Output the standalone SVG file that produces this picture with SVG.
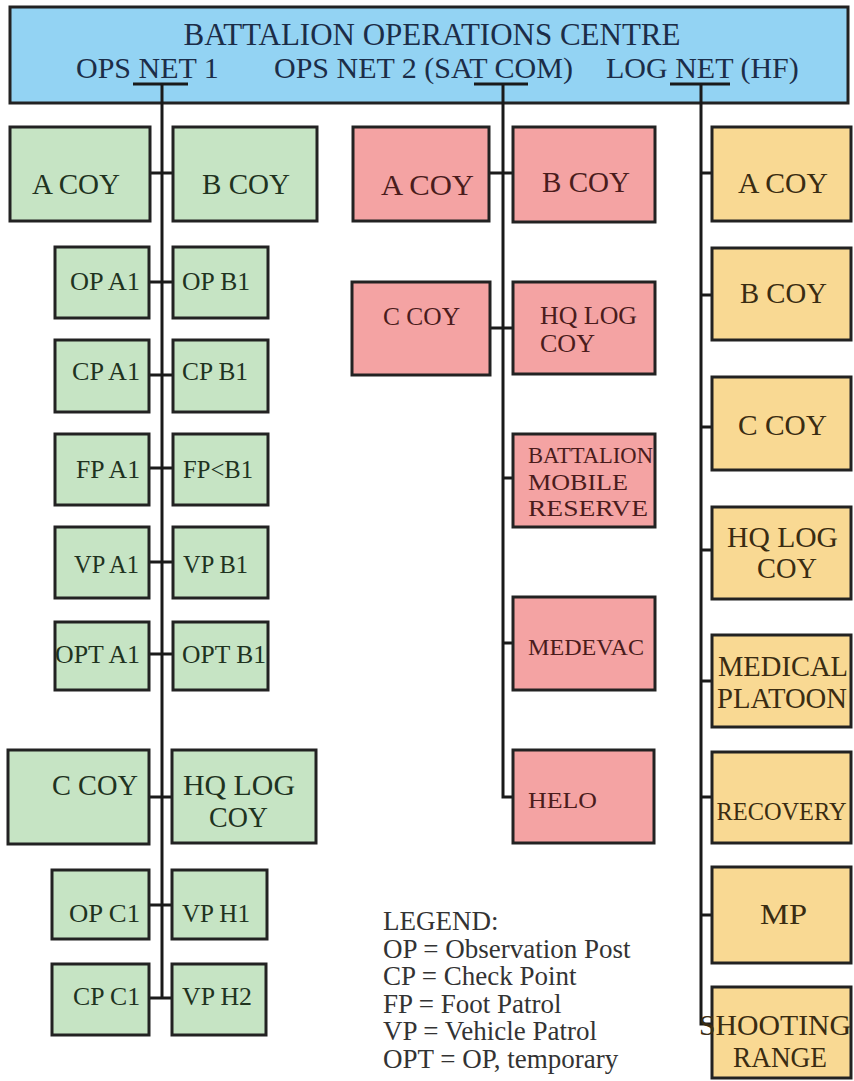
<svg xmlns="http://www.w3.org/2000/svg" width="854" height="1081" viewBox="0 0 854 1081">
<style>
text{font-family:"Liberation Serif","Times New Roman",serif;}
.box{stroke:#222;stroke-width:3;}
.hdr{fill:#93d3f3;}
.g{fill:#c6e4c4;}
.r{fill:#f4a3a3;}
.y{fill:#f9d993;}
.tg{fill:#1f331f;}
.tr{fill:#4a1c1c;}
.ty{fill:#3a2c12;}
.th{fill:#1c2d48;}
.b29{font-size:29px;}
.s25{font-size:25px;}
.s26{font-size:26px;}
.s24{font-size:24px;}
.leg{font-size:27px;fill:#333;}
.c{fill:none;stroke:#1a1a1a;stroke-width:3;}
</style>
<rect width="854" height="1081" fill="#ffffff"/>

<g id="header">
<rect class="box hdr" x="10" y="7" width="838" height="96"/>
<text class="th" x="432" y="45" font-size="31" text-anchor="middle">BATTALION OPERATIONS CENTRE</text>
<text class="th" x="76" y="78" font-size="30">OPS NET 1</text>
<text class="th" x="274" y="78" font-size="30">OPS NET 2 (SAT COM)</text>
<text class="th" x="606" y="78" font-size="30">LOG NET (HF)</text>
</g>

<g id="connectors">
<path class="c" d="M133 84H188M162 84V998"/>
<path class="c" d="M474 84H528M503 84V797H513"/>
<path class="c" d="M670 84H730M701 84V1024H712"/>
<path class="c" d="M150 173H173M149 282H173M149 375H173M149 468H173M149 562H173M149 654H173M149 797H172M149 905H172M149 998H172"/>
<path class="c" d="M489 173H513M490 328H513M503 478H513M503 643H513"/>
<path class="c" d="M701 173H712M701 295H712M701 427H712M701 550H712M701 681H712M701 797H712M701 915H712"/>
</g>

<g id="ops1-a-coy"><rect class="box g" x="10" y="127" width="140" height="94"/><text class="tg b29" x="32" y="194" textLength="88" lengthAdjust="spacingAndGlyphs">A COY</text></g>
<g id="ops1-b-coy"><rect class="box g" x="173" y="127" width="144" height="94"/><text class="tg b29" x="202" y="194" textLength="88" lengthAdjust="spacingAndGlyphs">B COY</text></g>
<g id="op-a1"><rect class="box g" x="55" y="247" width="94" height="71"/><text class="tg s25" x="70" y="290" textLength="70" lengthAdjust="spacingAndGlyphs">OP A1</text></g>
<g id="op-b1"><rect class="box g" x="173" y="247" width="95" height="71"/><text class="tg s25" x="182" y="290" textLength="68" lengthAdjust="spacingAndGlyphs">OP B1</text></g>
<g id="cp-a1"><rect class="box g" x="55" y="340" width="94" height="72"/><text class="tg s25" x="72" y="380" textLength="68" lengthAdjust="spacingAndGlyphs">CP A1</text></g>
<g id="cp-b1"><rect class="box g" x="173" y="340" width="95" height="72"/><text class="tg s25" x="182" y="380" textLength="66" lengthAdjust="spacingAndGlyphs">CP B1</text></g>
<g id="fp-a1"><rect class="box g" x="55" y="434" width="94" height="71"/><text class="tg s25" x="76" y="478" textLength="64" lengthAdjust="spacingAndGlyphs">FP A1</text></g>
<g id="fp-b1"><rect class="box g" x="173" y="434" width="95" height="71"/><text class="tg s25" x="183" y="478" textLength="70" lengthAdjust="spacingAndGlyphs">FP&lt;B1</text></g>
<g id="vp-a1"><rect class="box g" x="55" y="527" width="94" height="71"/><text class="tg s25" x="74" y="573" textLength="65" lengthAdjust="spacingAndGlyphs">VP A1</text></g>
<g id="vp-b1"><rect class="box g" x="173" y="527" width="95" height="71"/><text class="tg s25" x="183" y="573" textLength="65" lengthAdjust="spacingAndGlyphs">VP B1</text></g>
<g id="opt-a1"><rect class="box g" x="55" y="622" width="94" height="68"/><text class="tg s25" x="55" y="663" textLength="85" lengthAdjust="spacingAndGlyphs">OPT A1</text></g>
<g id="opt-b1"><rect class="box g" x="173" y="622" width="95" height="68"/><text class="tg s25" x="182" y="663" textLength="84" lengthAdjust="spacingAndGlyphs">OPT B1</text></g>
<g id="ops1-c-coy"><rect class="box g" x="8" y="750" width="141" height="94"/><text class="tg b29" x="52" y="795" textLength="86" lengthAdjust="spacingAndGlyphs">C COY</text></g>
<g id="ops1-hq-log-coy"><rect class="box g" x="172" y="750" width="144" height="93"/><text class="tg b29" x="183" y="795" textLength="112" lengthAdjust="spacingAndGlyphs">HQ LOG</text><text class="tg b29" x="209" y="827" textLength="59" lengthAdjust="spacingAndGlyphs">COY</text></g>
<g id="op-c1"><rect class="box g" x="52" y="870" width="97" height="69"/><text class="tg s25" x="69" y="922" textLength="71" lengthAdjust="spacingAndGlyphs">OP C1</text></g>
<g id="vp-h1"><rect class="box g" x="172" y="870" width="95" height="69"/><text class="tg s25" x="182" y="922" textLength="68" lengthAdjust="spacingAndGlyphs">VP H1</text></g>
<g id="cp-c1"><rect class="box g" x="52" y="964" width="97" height="71"/><text class="tg s25" x="73" y="1005" textLength="67" lengthAdjust="spacingAndGlyphs">CP C1</text></g>
<g id="vp-h2"><rect class="box g" x="172" y="964" width="94" height="71"/><text class="tg s25" x="182" y="1005" textLength="70" lengthAdjust="spacingAndGlyphs">VP H2</text></g>

<g id="ops2-a-coy"><rect class="box r" x="353" y="127" width="136" height="94"/><text class="tr b29" x="381" y="195" textLength="93" lengthAdjust="spacingAndGlyphs">A COY</text></g>
<g id="ops2-b-coy"><rect class="box r" x="513" y="127" width="142" height="95"/><text class="tr b29" x="542" y="192" textLength="88" lengthAdjust="spacingAndGlyphs">B COY</text></g>
<g id="ops2-c-coy"><rect class="box r" x="352" y="282" width="138" height="93"/><text class="tr s26" x="383" y="325" textLength="77" lengthAdjust="spacingAndGlyphs">C COY</text></g>
<g id="ops2-hq-log-coy"><rect class="box r" x="513" y="282" width="142" height="92"/><text class="tr s26" x="540" y="324" textLength="97" lengthAdjust="spacingAndGlyphs">HQ LOG</text><text class="tr s26" x="540" y="352" textLength="55" lengthAdjust="spacingAndGlyphs">COY</text></g>
<g id="battalion-mobile-reserve"><rect class="box r" x="513" y="434" width="142" height="93"/><text class="tr s24" x="528" y="463" textLength="125" lengthAdjust="spacingAndGlyphs">BATTALION</text><text class="tr s24" x="528" y="490" textLength="100" lengthAdjust="spacingAndGlyphs">MOBILE</text><text class="tr s24" x="528" y="516" textLength="120" lengthAdjust="spacingAndGlyphs">RESERVE</text></g>
<g id="medevac"><rect class="box r" x="513" y="597" width="142" height="93"/><text class="tr s24" x="528" y="655" textLength="116" lengthAdjust="spacingAndGlyphs">MEDEVAC</text></g>
<g id="helo"><rect class="box r" x="513" y="750" width="141" height="93"/><text class="tr s24" x="528" y="808" textLength="69" lengthAdjust="spacingAndGlyphs">HELO</text></g>

<g id="log-a-coy"><rect class="box y" x="712" y="127" width="139" height="94"/><text class="ty b29" x="738" y="193" textLength="90" lengthAdjust="spacingAndGlyphs">A COY</text></g>
<g id="log-b-coy"><rect class="box y" x="712" y="248" width="139" height="92"/><text class="ty b29" x="740" y="303" textLength="87" lengthAdjust="spacingAndGlyphs">B COY</text></g>
<g id="log-c-coy"><rect class="box y" x="712" y="377" width="139" height="93"/><text class="ty b29" x="738" y="435" textLength="89" lengthAdjust="spacingAndGlyphs">C COY</text></g>
<g id="log-hq-log-coy"><rect class="box y" x="712" y="507" width="139" height="92"/><text class="ty b29" x="727" y="547" textLength="111" lengthAdjust="spacingAndGlyphs">HQ LOG</text><text class="ty b29" x="757" y="578" textLength="60" lengthAdjust="spacingAndGlyphs">COY</text></g>
<g id="medical-platoon"><rect class="box y" x="712" y="635" width="139" height="92"/><text class="ty b29" x="718" y="676" textLength="130" lengthAdjust="spacingAndGlyphs">MEDICAL</text><text class="ty b29" x="717" y="708" textLength="130" lengthAdjust="spacingAndGlyphs">PLATOON</text></g>
<g id="recovery"><rect class="box y" x="712" y="752" width="139" height="91"/><text class="ty" font-size="25" x="781.5" y="820" text-anchor="middle" textLength="130" lengthAdjust="spacingAndGlyphs">RECOVERY</text></g>
<g id="mp"><rect class="box y" x="712" y="867" width="139" height="96"/><text class="ty" font-size="30" x="760" y="924" textLength="47" lengthAdjust="spacingAndGlyphs">MP</text></g>
<g id="shooting-range"><rect class="box y" x="712" y="987" width="139" height="91"/><text class="ty b29" x="699" y="1035" textLength="152" lengthAdjust="spacingAndGlyphs">SHOOTING</text><text class="ty b29" x="733" y="1067" textLength="94" lengthAdjust="spacingAndGlyphs">RANGE</text></g>

<g id="legend">
<text class="leg" x="383" y="930">LEGEND:</text>
<text class="leg" x="383" y="957.6">OP = Observation Post</text>
<text class="leg" x="383" y="985.2">CP = Check Point</text>
<text class="leg" x="383" y="1012.8">FP = Foot Patrol</text>
<text class="leg" x="383" y="1040.4">VP = Vehicle Patrol</text>
<text class="leg" x="383" y="1068">OPT = OP, temporary</text>
</g>
</svg>
